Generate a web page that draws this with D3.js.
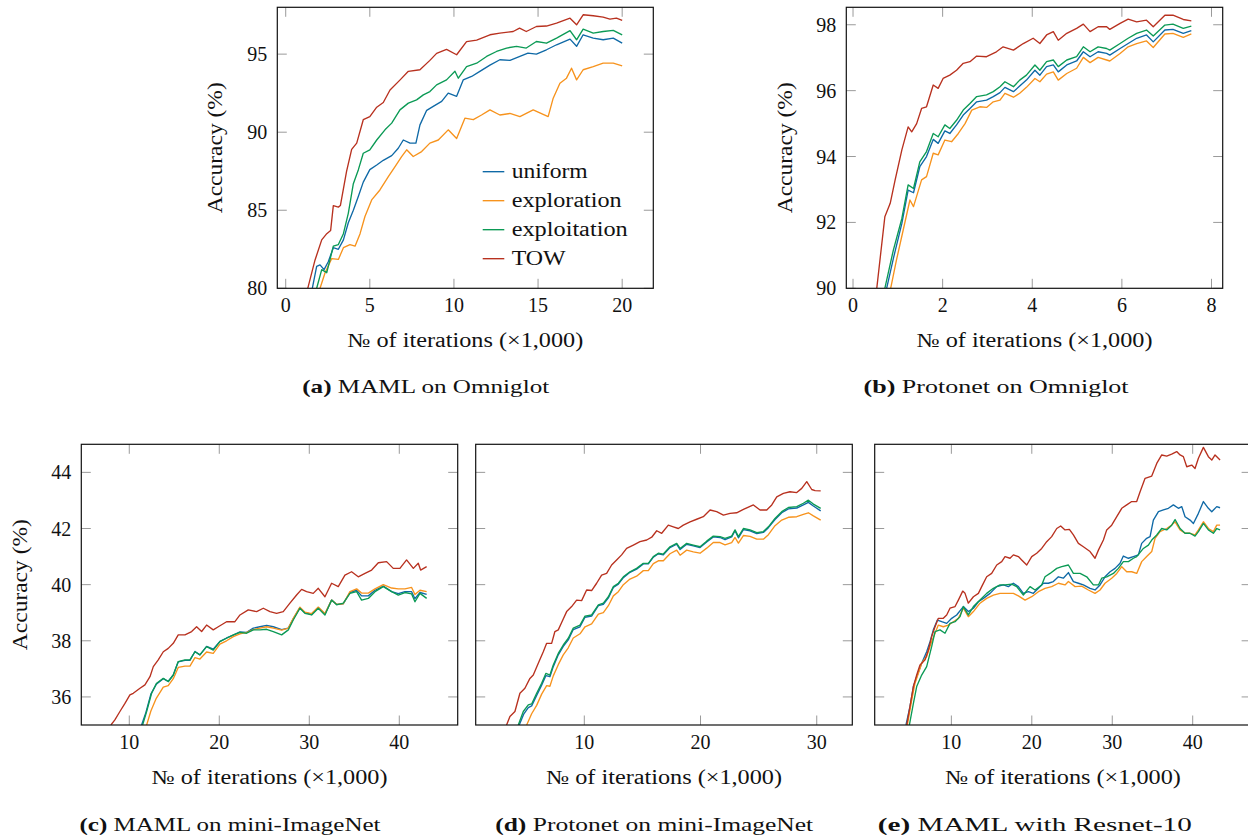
<!DOCTYPE html>
<html>
<head>
<meta charset="utf-8">
<script src="https://cdn.jsdelivr.net/npm/d3@7"></script>
<style>
  body { margin: 0; background: #fff; }
  svg text { font-family: "Liberation Serif", "DejaVu Serif", serif; fill: #111; }
</style>
</head>
<body>
<div id="chart"></div>
<script>
/* series names + colours */
const SERIES = ["uniform", "exploration", "exploitation", "TOW"];
const COLORS = { uniform: "#0f69a6", exploration: "#f7931d", exploitation: "#0b9a55", TOW: "#b8311f" };

/* ── (a) MAML on Omniglot : [iterations ×1000, accuracy %] ── */
const A_UNIFORM = [[1.58,80],[1.84,81.4],[2.04,81.5],[2.28,81.2],[2.53,81.7],[2.83,82.6],[3.13,82.5],[3.43,83.1],[3.72,84.2],[4.02,85.0],[4.32,85.9],[4.61,86.8],[5.0,87.6],[5.41,87.9],[5.8,88.2],[6.3,88.5],[6.69,88.97],[6.99,89.5],[7.39,89.3],[7.74,89.3],[7.98,90.47],[8.38,91.4],[8.77,91.65],[9.27,91.97],[9.66,92.5],[10.16,92.3],[10.55,93.35],[11.05,93.57],[11.54,93.9],[12.14,94.3],[12.73,94.64],[13.33,94.6],[13.92,94.85],[14.4,95.06],[14.9,95.0],[15.5,95.28],[16.1,95.6],[16.9,95.96],[17.29,95.5],[17.68,96.24],[18.28,96.03],[18.87,95.92],[19.47,96.03],[20,95.7]];
const A_EXPLORATION = [[2.04,80],[2.34,81.0],[2.73,81.9],[3.13,81.85],[3.43,82.6],[3.82,82.8],[4.12,82.7],[4.42,83.5],[4.71,84.6],[5.11,85.66],[5.6,86.3],[6.1,87.16],[6.5,87.8],[6.89,88.44],[7.19,88.87],[7.58,88.44],[8.08,88.76],[8.57,89.3],[9.07,89.5],[9.66,90.15],[10.16,89.6],[10.65,90.9],[11.15,90.8],[11.64,91.1],[12.14,91.43],[12.73,91.1],[13.33,91.2],[13.92,91.0],[14.71,91.43],[15.6,91.0],[15.9,92.18],[16.3,93.14],[16.69,93.46],[16.99,94.1],[17.29,93.35],[17.68,94.0],[18.28,94.2],[18.87,94.42],[19.47,94.42],[20,94.25]];
const A_EXPLOITATION = [[1.84,80],[2.14,81.2],[2.44,81.0],[2.83,82.7],[3.13,82.8],[3.43,83.5],[3.72,84.8],[4.02,86.7],[4.32,87.6],[4.61,88.65],[5.0,88.87],[5.41,89.5],[5.9,90.15],[6.3,90.58],[6.79,91.43],[7.29,91.86],[7.78,92.07],[8.18,92.39],[8.57,92.6],[8.97,93.03],[9.56,93.35],[10.06,93.9],[10.26,93.46],[10.75,94.2],[11.35,94.42],[11.94,94.85],[12.53,95.17],[13.13,95.39],[13.72,95.5],[14.3,95.39],[14.9,95.81],[15.5,95.7],[16.1,96.03],[16.9,96.5],[17.29,95.92],[17.68,96.6],[18.28,96.35],[18.87,96.45],[19.47,96.52],[20,96.24]];
const A_TOW = [[1.31,80],[1.74,81.8],[2.14,83.1],[2.44,83.5],[2.67,83.7],[2.83,85.3],[3.13,85.2],[3.25,85.3],[3.62,87.5],[3.92,88.9],[4.22,89.3],[4.61,90.8],[5.0,91.0],[5.41,91.6],[5.8,91.9],[6.2,92.7],[6.8,93.35],[7.29,93.9],[7.98,94.0],[8.57,94.6],[8.97,95.05],[9.56,95.3],[10.16,94.96],[10.75,95.8],[11.35,95.9],[12.14,96.24],[12.73,96.35],[13.52,96.45],[13.9,96.67],[14.3,96.45],[14.9,96.77],[15.5,96.8],[16.1,96.99],[16.9,97.3],[17.29,96.88],[17.68,97.52],[18.28,97.46],[18.87,97.37],[19.27,97.24],[19.66,97.31],[20,97.16]];

/* ── (b) Protonet on Omniglot ── */
const B_UNIFORM = [[0.75,90],[0.91,90.96],[1.09,91.97],[1.23,92.98],[1.35,92.9],[1.49,93.69],[1.64,94.0],[1.79,94.52],[1.9,94.4],[2.05,94.78],[2.16,94.7],[2.31,94.96],[2.46,95.26],[2.61,95.46],[2.76,95.66],[2.98,95.71],[3.13,95.82],[3.28,95.94],[3.39,96.1],[3.58,95.97],[3.72,96.14],[3.87,96.32],[4.06,96.62],[4.17,96.47],[4.32,96.73],[4.47,96.78],[4.58,96.57],[4.77,96.78],[4.99,96.9],[5.14,97.18],[5.29,97.03],[5.47,97.18],[5.66,97.13],[5.73,97.08],[5.96,97.28],[6.14,97.43],[6.33,97.59],[6.55,97.69],[6.7,97.48],[6.96,97.84],[7.14,97.86],[7.37,97.74],[7.55,97.82]];
const B_EXPLORATION = [[0.84,90],[0.97,90.86],[1.12,91.77],[1.27,92.68],[1.35,92.48],[1.53,93.29],[1.64,93.39],[1.79,94.1],[1.9,94.05],[2.05,94.5],[2.2,94.45],[2.35,94.7],[2.5,95.0],[2.65,95.41],[2.83,95.51],[2.98,95.49],[3.13,95.66],[3.28,95.71],[3.39,95.92],[3.58,95.8],[3.72,95.92],[3.87,96.1],[4.06,96.37],[4.17,96.27],[4.32,96.5],[4.47,96.57],[4.58,96.32],[4.77,96.52],[4.99,96.68],[5.14,97.01],[5.29,96.85],[5.47,97.01],[5.66,96.93],[5.73,96.9],[5.96,97.13],[6.14,97.33],[6.33,97.43],[6.55,97.51],[6.7,97.31],[6.96,97.72],[7.14,97.74],[7.37,97.62],[7.55,97.72]];
const B_EXPLOITATION = [[0.71,90],[0.9,91.16],[1.09,92.12],[1.23,93.14],[1.35,93.03],[1.49,93.84],[1.64,94.15],[1.79,94.7],[1.9,94.6],[2.05,94.96],[2.16,94.85],[2.31,95.1],[2.46,95.41],[2.61,95.61],[2.76,95.82],[2.98,95.87],[3.13,95.97],[3.28,96.12],[3.39,96.27],[3.58,96.12],[3.72,96.32],[3.87,96.47],[4.06,96.78],[4.17,96.62],[4.32,96.88],[4.47,96.93],[4.58,96.73],[4.77,96.93],[4.99,97.03],[5.14,97.33],[5.29,97.18],[5.47,97.33],[5.66,97.28],[5.73,97.23],[5.96,97.43],[6.14,97.59],[6.33,97.74],[6.55,97.84],[6.7,97.66],[6.96,97.99],[7.14,98.02],[7.37,97.89],[7.55,97.96]];
const B_TOW = [[0.53,90],[0.71,92.17],[0.83,92.58],[0.94,93.29],[1.09,94.2],[1.23,94.9],[1.31,94.75],[1.42,95.0],[1.53,95.46],[1.64,95.51],[1.79,96.17],[1.9,96.07],[2.01,96.37],[2.16,96.47],[2.31,96.62],[2.46,96.83],[2.61,96.88],[2.76,97.05],[2.98,97.03],[3.2,97.18],[3.35,97.33],[3.58,97.23],[3.8,97.43],[4.02,97.59],[4.17,97.43],[4.32,97.69],[4.47,97.79],[4.58,97.53],[4.77,97.74],[4.99,97.89],[5.14,98.02],[5.29,97.79],[5.47,97.94],[5.66,97.94],[5.73,97.86],[5.96,98.04],[6.14,98.17],[6.33,98.09],[6.55,98.14],[6.7,97.94],[6.96,98.29],[7.14,98.29],[7.37,98.16],[7.55,98.12]];

/* ── (c) MAML on mini-ImageNet ── */
const C_UNIFORM = [[11.37,35.0],[11.85,35.45],[12.4,36.1],[13.0,36.45],[13.78,36.65],[14.33,36.55],[14.89,36.78],[15.44,37.25],[16.19,37.3],[16.74,37.3],[17.3,37.62],[17.85,37.5],[18.59,37.8],[19.33,37.7],[20.07,37.98],[20.81,38.1],[21.56,38.2],[22.3,38.32],[23.04,38.3],[23.78,38.45],[24.52,38.5],[25.26,38.55],[26.0,38.5],[26.93,38.4],[27.67,38.45],[28.22,38.78],[28.96,39.18],[29.52,39.0],[30.26,38.95],[31.0,39.18],[31.74,38.95],[32.48,39.45],[33.04,39.3],[33.78,39.32],[34.52,39.72],[35.26,39.8],[35.81,39.6],[36.56,39.6],[37.3,39.8],[38.22,39.95],[39.15,39.75],[39.89,39.68],[40.63,39.75],[41.37,39.75],[41.74,39.5],[42.3,39.72],[43.04,39.65]];
const C_EXPLORATION = [[11.93,35.0],[12.4,35.5],[13.0,35.95],[13.78,36.35],[14.33,36.4],[14.89,36.65],[15.44,37.05],[16.19,37.1],[16.74,37.1],[17.3,37.4],[17.85,37.35],[18.59,37.6],[19.33,37.55],[20.07,37.88],[20.81,38.0],[21.56,38.15],[22.3,38.25],[23.04,38.3],[23.78,38.4],[24.52,38.45],[25.26,38.5],[26.0,38.45],[26.93,38.38],[27.67,38.45],[28.22,38.8],[28.96,39.2],[29.52,39.02],[30.26,38.97],[31.0,39.2],[31.74,38.97],[32.48,39.45],[33.04,39.3],[33.78,39.32],[34.52,39.75],[35.26,39.85],[35.81,39.7],[36.56,39.7],[37.3,39.85],[38.22,40.0],[39.15,39.88],[39.89,39.85],[40.63,39.85],[41.37,39.9],[41.74,39.65],[42.3,39.8],[43.04,39.75]];
const C_EXPLOITATION = [[11.48,35.0],[11.93,35.48],[12.48,36.13],[13.04,36.49],[13.78,36.66],[14.33,36.55],[14.89,36.78],[15.44,37.26],[16.19,37.32],[16.74,37.32],[17.3,37.61],[17.85,37.5],[18.59,37.79],[19.33,37.67],[20.07,37.97],[20.81,38.09],[21.56,38.21],[22.3,38.3],[23.04,38.27],[23.78,38.39],[24.52,38.39],[25.26,38.41],[26.0,38.33],[26.93,38.21],[27.67,38.39],[28.22,38.74],[28.96,39.16],[29.52,38.98],[30.26,38.92],[31.0,39.16],[31.74,38.92],[32.48,39.45],[33.04,39.28],[33.78,39.34],[34.52,39.69],[35.26,39.75],[35.81,39.45],[36.56,39.51],[37.3,39.75],[38.22,39.93],[39.15,39.75],[39.89,39.63],[40.63,39.72],[41.37,39.67],[41.74,39.39],[42.3,39.69],[43.04,39.51]];
const C_TOW = [[7.96,35.0],[8.4,35.18],[8.96,35.48],[9.52,35.77],[10.07,36.07],[10.44,36.13],[11.19,36.31],[11.74,36.43],[12.3,36.72],[12.67,37.08],[13.22,37.32],[13.78,37.61],[14.33,37.73],[14.89,37.91],[15.44,38.21],[16.19,38.21],[16.93,38.33],[17.48,38.5],[18.04,38.33],[18.59,38.56],[19.33,38.39],[19.89,38.5],[20.81,38.68],[21.74,38.68],[22.3,38.92],[23.22,39.1],[24.15,39.04],[24.89,39.16],[25.63,39.04],[26.37,38.98],[27.11,39.04],[27.85,39.34],[28.59,39.63],[29.15,39.83],[29.7,39.75],[30.44,39.69],[31.0,39.87],[31.74,39.57],[32.48,40.05],[33.22,39.93],[33.96,40.34],[34.7,40.46],[35.44,40.28],[36.19,40.4],[36.93,40.52],[37.67,40.78],[38.59,40.82],[39.33,40.58],[40.07,40.58],[40.81,40.88],[41.56,40.58],[42.11,40.76],[42.37,40.52],[43.04,40.64]];

/* ── (d) Protonet on mini-ImageNet ── */
const D_UNIFORM = [[4.4,35.0],[4.8,35.4],[5.18,35.62],[5.47,35.68],[5.9,36.05],[6.33,36.42],[6.7,36.76],[7.04,36.72],[7.33,37.08],[7.76,37.5],[8.19,37.8],[8.62,38.03],[9.05,38.4],[9.63,38.5],[10.06,38.84],[10.63,38.88],[11.21,39.25],[11.64,39.3],[12.07,39.53],[12.5,39.9],[12.93,40.02],[13.36,40.25],[13.93,40.44],[14.5,40.55],[15.08,40.74],[15.51,40.74],[15.94,40.98],[16.37,41.1],[16.8,41.06],[17.37,41.32],[17.95,41.44],[18.24,41.25],[18.81,41.44],[19.38,41.38],[19.96,41.32],[20.53,41.52],[21.1,41.7],[21.68,41.68],[22.11,41.6],[22.68,41.7],[22.97,41.92],[23.26,41.67],[23.69,41.96],[24.26,41.92],[24.84,41.82],[25.41,41.86],[25.84,42.03],[26.41,42.32],[26.99,42.56],[27.56,42.7],[28.28,42.73],[28.85,42.84],[29.28,42.93],[29.71,42.8],[30.34,42.63]];
const D_EXPLORATION = [[5.04,35.0],[5.47,35.4],[5.9,35.7],[6.33,36.1],[6.76,36.4],[7.04,36.38],[7.33,36.75],[7.76,37.15],[8.19,37.5],[8.62,37.75],[9.05,38.1],[9.63,38.25],[10.06,38.5],[10.63,38.6],[11.21,38.95],[11.64,39.0],[12.07,39.25],[12.5,39.6],[12.93,39.75],[13.36,40.0],[13.93,40.2],[14.5,40.3],[15.08,40.5],[15.51,40.5],[15.94,40.75],[16.37,40.85],[16.8,40.85],[17.37,41.1],[17.95,41.23],[18.24,41.05],[18.81,41.23],[19.38,41.17],[19.96,41.12],[20.53,41.3],[21.1,41.5],[21.68,41.5],[22.11,41.42],[22.68,41.5],[22.97,41.68],[23.26,41.48],[23.69,41.75],[24.26,41.72],[24.84,41.62],[25.41,41.62],[25.84,41.78],[26.41,42.1],[26.99,42.3],[27.56,42.4],[28.28,42.42],[28.85,42.5],[29.28,42.56],[29.71,42.45],[30.34,42.3]];
const D_EXPLOITATION = [[4.32,35.0],[4.75,35.48],[5.18,35.72],[5.47,35.75],[5.9,36.13],[6.33,36.49],[6.7,36.84],[7.04,36.78],[7.33,37.14],[7.76,37.55],[8.19,37.85],[8.62,38.09],[9.05,38.45],[9.63,38.56],[10.06,38.88],[10.63,38.92],[11.21,39.28],[11.64,39.34],[12.07,39.57],[12.5,39.93],[12.93,40.05],[13.36,40.28],[13.93,40.46],[14.5,40.58],[15.08,40.76],[15.51,40.76],[15.94,41.0],[16.37,41.12],[16.8,41.09],[17.37,41.35],[17.95,41.47],[18.24,41.29],[18.81,41.47],[19.38,41.41],[19.96,41.35],[20.53,41.55],[21.1,41.73],[21.68,41.71],[22.11,41.65],[22.68,41.73],[22.97,41.95],[23.26,41.71],[23.69,42.0],[24.26,41.95],[24.84,41.85],[25.41,41.89],[25.84,42.06],[26.41,42.36],[26.99,42.6],[27.56,42.75],[28.28,42.78],[28.85,42.9],[29.28,43.01],[29.71,42.87],[30.34,42.72]];
const D_TOW = [[3.31,35.0],[3.6,35.3],[4.03,35.48],[4.46,36.13],[4.89,36.31],[5.32,36.66],[5.61,36.78],[6.04,37.2],[6.47,37.61],[6.76,37.91],[7.19,37.91],[7.47,38.33],[7.76,38.39],[8.05,38.65],[8.48,39.04],[8.91,39.22],[9.34,39.45],[9.77,39.43],[10.2,39.81],[10.63,39.79],[11.06,40.05],[11.49,40.34],[11.92,40.4],[12.35,40.7],[12.78,40.88],[13.21,41.06],[13.64,41.29],[14.22,41.41],[14.79,41.53],[15.37,41.59],[15.8,41.69],[16.23,41.92],[16.66,41.83],[17.23,42.12],[17.66,42.06],[18.09,42.0],[18.52,42.12],[19.1,42.24],[19.67,42.33],[20.24,42.42],[20.82,42.66],[21.39,42.6],[21.97,42.48],[22.54,42.54],[23.11,42.56],[23.69,42.68],[24.55,42.84],[25.12,42.66],[25.7,42.66],[26.13,42.84],[26.56,43.13],[27.13,43.25],[27.7,43.31],[28.28,43.28],[28.71,43.43],[29.14,43.67],[29.57,43.39],[29.86,43.35],[30.34,43.34]];

/* ── (e) MAML with Resnet-10 ── */
const E_UNIFORM = [[4.36,35.0],[4.86,35.66],[5.28,36.37],[5.69,36.72],[6.31,37.2],[6.93,37.61],[7.35,37.97],[7.76,38.39],[8.26,38.74],[8.8,38.68],[9.42,38.62],[10.04,38.8],[10.66,38.92],[11.49,39.22],[12.11,39.04],[12.74,39.16],[13.36,39.39],[13.98,39.51],[14.81,39.69],[15.64,39.93],[16.47,39.99],[17.09,39.93],[17.71,40.05],[18.33,39.93],[18.95,39.69],[19.57,39.75],[20.19,39.69],[20.82,39.87],[21.44,40.05],[22.06,40.05],[22.68,40.11],[23.3,40.28],[23.92,40.23],[24.55,40.43],[25.17,40.11],[25.79,40.05],[26.41,39.99],[27.24,39.87],[27.86,39.81],[28.48,39.99],[29.1,40.28],[29.73,40.46],[30.35,40.58],[30.97,40.76],[31.38,41.02],[32.01,40.94],[32.63,41.0],[33.25,41.06],[33.66,41.47],[34.28,41.65],[34.7,41.71],[35.11,42.3],[35.74,42.6],[36.36,42.66],[36.98,42.72],[37.6,42.84],[38.22,42.72],[38.64,42.78],[39.05,42.42],[39.67,42.3],[40.09,42.18],[40.71,42.54],[41.33,42.96],[41.95,42.72],[42.37,42.6],[42.99,42.78],[43.4,42.74]];
const E_EXPLORATION = [[4.53,35.0],[5.07,35.89],[5.48,36.49],[5.9,36.84],[6.31,37.2],[6.93,37.44],[7.55,37.97],[7.97,38.27],[8.38,38.56],[9.0,38.5],[9.62,38.56],[10.25,38.68],[10.87,38.8],[11.49,39.16],[12.11,38.86],[12.74,39.04],[13.56,39.34],[14.39,39.51],[15.22,39.63],[16.05,39.69],[16.88,39.69],[17.71,39.69],[18.33,39.6],[19.16,39.45],[19.99,39.57],[20.82,39.75],[21.64,39.87],[22.47,39.93],[23.3,40.05],[24.13,39.99],[24.55,40.11],[25.38,39.93],[26.2,39.95],[27.03,39.81],[27.86,39.69],[28.48,39.81],[29.1,40.05],[29.93,40.23],[30.56,40.4],[31.18,40.64],[31.8,40.46],[32.42,40.46],[33.04,40.4],[33.66,40.82],[34.28,41.0],[34.91,41.18],[35.32,41.65],[35.94,41.89],[36.77,42.0],[37.39,42.12],[37.81,42.24],[38.43,41.95],[39.05,41.83],[39.67,41.83],[40.29,41.77],[40.71,41.95],[41.33,42.24],[41.95,42.0],[42.57,41.89],[42.99,42.12],[43.4,42.12]];
const E_EXPLOITATION = [[4.78,35.0],[5.28,35.77],[5.69,36.37],[6.31,36.78],[6.93,37.08],[7.55,37.79],[7.97,38.33],[8.59,38.39],[9.21,38.27],[9.83,38.62],[10.46,38.68],[11.08,38.86],[11.49,39.22],[12.11,38.92],[12.74,39.22],[13.56,39.45],[14.39,39.69],[15.22,39.87],[16.05,39.99],[16.67,39.99],[17.5,40.02],[18.12,39.93],[18.95,39.63],[19.78,39.93],[20.4,39.81],[21.23,39.99],[21.64,40.28],[22.27,40.4],[23.1,40.58],[23.72,40.64],[24.55,40.7],[25.17,40.4],[26.0,40.4],[26.83,40.28],[27.65,39.99],[28.28,39.99],[28.69,40.23],[29.31,40.28],[30.14,40.4],[30.76,40.58],[31.38,40.82],[32.01,40.82],[32.63,40.94],[33.04,41.0],[33.87,41.29],[34.49,41.41],[34.91,41.59],[35.53,41.77],[36.15,42.0],[36.77,41.95],[37.39,42.12],[37.81,42.32],[38.43,42.0],[39.05,41.83],[39.67,41.83],[40.29,41.73],[40.71,41.89],[41.33,42.18],[41.95,41.95],[42.57,41.83],[42.99,42.0],[43.4,41.95]];
const E_TOW = [[4.45,35.0],[4.86,35.66],[5.28,36.37],[5.69,36.78],[6.1,37.14],[6.73,37.32],[7.14,37.67],[7.55,38.15],[7.97,38.5],[8.38,38.8],[9.0,38.8],[9.42,38.92],[9.83,39.16],[10.46,39.22],[10.87,39.45],[11.41,39.77],[11.7,39.69],[12.11,39.34],[12.74,39.57],[13.36,39.69],[13.77,39.93],[14.39,40.28],[15.01,40.4],[15.64,40.7],[16.26,40.82],[16.67,41.0],[17.29,40.94],[17.71,41.06],[18.33,41.0],[18.74,40.88],[19.37,40.7],[19.99,41.0],[20.61,41.12],[21.23,41.29],[21.85,41.53],[22.47,41.71],[23.1,42.0],[23.59,42.09],[24.13,41.95],[24.67,41.97],[25.17,41.77],[25.79,41.47],[26.41,41.35],[27.24,41.18],[27.86,40.94],[28.28,41.23],[28.9,41.59],[29.31,41.95],[29.93,42.12],[30.56,42.42],[31.18,42.72],[31.8,42.84],[32.42,42.96],[33.04,42.96],[33.46,43.31],[34.08,43.79],[34.91,43.87],[35.53,44.32],[36.15,44.62],[36.77,44.58],[37.39,44.65],[38.01,44.74],[38.43,44.62],[38.84,44.56],[39.26,44.2],[39.88,44.26],[40.29,44.14],[40.71,44.5],[41.33,44.89],[41.95,44.56],[42.37,44.44],[42.78,44.62],[43.4,44.44]];

/* tick values */
const A_XTICKS = [0, 5, 10, 15, 20], A_YTICKS = [80, 85, 90, 95];
const B_XTICKS = [0, 2, 4, 6, 8],    B_YTICKS = [90, 92, 94, 96, 98];
const C_XTICKS = [10, 20, 30, 40],   C_YTICKS = [36, 38, 40, 42, 44];
const D_XTICKS = [10, 20, 30];
const E_XTICKS = [10, 20, 30, 40];

const CAPTIONS = [
  ["(a)", "MAML on Omniglot"], ["(b)", "Protonet on Omniglot"],
  ["(c)", "MAML on mini-ImageNet"], ["(d)", "Protonet on mini-ImageNet"], ["(e)", "MAML with Resnet-10"]
];
/* rendered widths of the LaTeX (Computer Modern) text, used to stretch the narrower fallback font */
const CAPTION_W = [247, 265, 301, 318, 314];
const LEGEND_W = { uniform: 76, exploration: 110, exploitation: 116, TOW: 54 };

const W = 1248, H = 836;
const svg = d3.select("#chart").append("svg").attr("width", W).attr("height", H);

const TICK_LEN = 9.5;
const FS = 20;

function stretch(sel, w) {
  return sel.attr("textLength", w).attr("lengthAdjust", "spacingAndGlyphs");
}

function panel(o) {
  const x = d3.scaleLinear().domain(o.xd).range([o.l, o.r]);
  const y = d3.scaleLinear().domain(o.yd).range([o.b, o.t]);
  const g = svg.append("g");
  const clipId = "clip" + o.id;
  svg.append("clipPath").attr("id", clipId).append("rect")
    .attr("x", o.l).attr("y", o.t).attr("width", o.r - o.l).attr("height", o.b - o.t);

  /* inward ticks on all four sides */
  const tk = g.append("g").attr("stroke", "#9a9a9a").attr("stroke-width", 1);
  o.xt.forEach(v => {
    tk.append("line").attr("x1", x(v)).attr("x2", x(v)).attr("y1", o.b).attr("y2", o.b - TICK_LEN);
    tk.append("line").attr("x1", x(v)).attr("x2", x(v)).attr("y1", o.t).attr("y2", o.t + TICK_LEN);
  });
  o.yt.forEach(v => {
    tk.append("line").attr("x1", o.l).attr("x2", o.l + TICK_LEN).attr("y1", y(v)).attr("y2", y(v));
    tk.append("line").attr("x1", o.r).attr("x2", o.r - TICK_LEN).attr("y1", y(v)).attr("y2", y(v));
  });

  /* series lines */
  const line = d3.line().x(d => x(d[0])).y(d => y(d[1]));
  const lg = g.append("g").attr("clip-path", `url(#${clipId})`);
  SERIES.forEach((s, i) => {
    lg.append("path").datum(o.data[i]).attr("d", line)
      .attr("fill", "none").attr("stroke", COLORS[s]).attr("stroke-width", 1.35)
      .attr("stroke-linejoin", "round");
  });

  /* frame */
  g.append("rect").attr("x", o.l).attr("y", o.t).attr("width", o.r - o.l).attr("height", o.b - o.t)
    .attr("fill", "none").attr("stroke", "#111").attr("stroke-width", 1.2);

  /* tick labels */
  o.xt.forEach(v => g.append("text").attr("x", x(v)).attr("y", o.b + 24)
    .attr("text-anchor", "middle").style("font-size", FS + "px").text(v));
  if (o.ylab) o.yt.forEach(v => g.append("text").attr("x", o.l - 10).attr("y", y(v) + 7)
    .attr("text-anchor", "end").style("font-size", FS + "px").text(v));

  /* axis titles */
  stretch(g.append("text").attr("x", (o.l + o.r) / 2).attr("y", o.b + 59)
    .attr("text-anchor", "middle").style("font-size", FS + "px").text("№ of iterations (×1,000)"), 236);
  if (o.ytitle) stretch(g.append("text")
    .attr("transform", `translate(${o.ytitle},${(o.t + o.b) / 2}) rotate(-90)`)
    .attr("text-anchor", "middle").attr("dy", "0.35em").style("font-size", FS + "px").text("Accuracy (%)"), 131);

  /* caption */
  const cap = g.append("text").attr("x", o.cx).attr("y", o.cy).attr("text-anchor", "middle")
    .style("font-size", "19px");
  cap.append("tspan").style("font-weight", "bold").text(CAPTIONS[o.id][0]);
  cap.append("tspan").text(" " + CAPTIONS[o.id][1]);
  stretch(cap, CAPTION_W[o.id]);
  return { x, y, g };
}

const pa = panel({ id: 0, l: 277.3, r: 653.3, t: 7.3, b: 288.3, xd: [-0.5, 21.85], yd: [80, 98],
  xt: A_XTICKS, yt: A_YTICKS, ylab: true, ytitle: 215, cx: 425.7, cy: 393,
  data: [A_UNIFORM, A_EXPLORATION, A_EXPLOITATION, A_TOW] });
panel({ id: 1, l: 846.3, r: 1222.7, t: 7.3, b: 288.3, xd: [-0.15, 8.25], yd: [90, 98.53],
  xt: B_XTICKS, yt: B_YTICKS, ylab: true, ytitle: 785, cx: 996.1, cy: 393,
  data: [B_UNIFORM, B_EXPLORATION, B_EXPLOITATION, B_TOW] });
panel({ id: 2, l: 81.3, r: 457.7, t: 444.3, b: 725, xd: [4.67, 46.49], yd: [35, 45],
  xt: C_XTICKS, yt: C_YTICKS, ylab: true, ytitle: 20, cx: 230, cy: 831,
  data: [C_UNIFORM, C_EXPLORATION, C_EXPLOITATION, C_TOW] });
panel({ id: 3, l: 475.7, r: 852.3, t: 444.3, b: 725, xd: [0.655, 33.06], yd: [35, 45],
  xt: D_XTICKS, yt: C_YTICKS, ylab: false, cx: 654.2, cy: 831,
  data: [D_UNIFORM, D_EXPLORATION, D_EXPLOITATION, D_TOW] });
panel({ id: 4, l: 874.7, r: 1251.1, t: 444.3, b: 725, xd: [0.47, 47.26], yd: [35, 45],
  xt: E_XTICKS, yt: C_YTICKS, ylab: false, cx: 1034.8, cy: 831,
  data: [E_UNIFORM, E_EXPLORATION, E_EXPLOITATION, E_TOW] });

/* legend inside panel (a) */
const leg = pa.g.append("g");
SERIES.forEach((s, i) => {
  const yy = 171.7 + i * 29;
  leg.append("line").attr("x1", 482.7).attr("x2", 504.3).attr("y1", yy).attr("y2", yy)
    .attr("stroke", COLORS[s]).attr("stroke-width", 1.35);
  stretch(leg.append("text").attr("x", 511.7).attr("y", yy + 6).style("font-size", FS + "px").text(s), LEGEND_W[s]);
});
</script>
</body>
</html>
